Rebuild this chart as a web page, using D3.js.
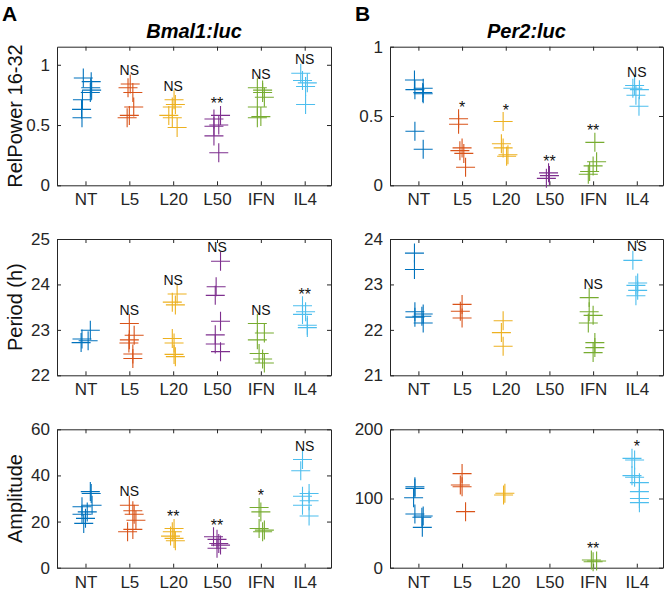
<!DOCTYPE html>
<html>
<head>
<meta charset="utf-8">
<script src="https://cdn.jsdelivr.net/npm/d3@7/dist/d3.min.js"></script>
<style>
  html, body { margin: 0; padding: 0; background: #fff; }
  svg { display: block; font-family: "Liberation Sans", Arial, Helvetica, sans-serif; }
</style>
</head>
<body>
<svg id="chart" width="666" height="598"></svg>
<script>
// ---------- data ----------
const categories = ["NT", "L5", "L20", "L50", "IFN", "IL4"];
const colors = ["#0072BD", "#D95319", "#EDB120", "#7E2F8E", "#77AC30", "#4DBEEE"];

// Bmal1:luc RelPower 16-32
const bmalPower = [
  [0.89, 0.86, 0.81, 0.79, 0.77, 0.71, 0.63, 0.56],
  [0.84, 0.81, 0.77, 0.65, 0.58, 0.56],
  [0.71, 0.67, 0.65, 0.58, 0.56, 0.48],
  [0.58, 0.55, 0.50, 0.49, 0.41, 0.27],
  [0.81, 0.79, 0.77, 0.73, 0.65, 0.57, 0.56],
  [0.93, 0.87, 0.85, 0.82, 0.67]
];
const bmalPowerJitter = [
  [-0.05, 0.13, 0.12, 0.14, 0.11, -0.07, -0.09, -0.08],
  [0.02, -0.03, 0.08, 0.10, 0.00, -0.05],
  [0.02, 0.05, -0.02, -0.10, -0.02, 0.09],
  [0.08, -0.07, 0.04, -0.07, -0.07, 0.04],
  [-0.08, 0.04, 0.04, 0.08, -0.08, 0.00, -0.08],
  [-0.09, -0.05, 0.06, 0.02, 0.02]
];
const bmalPowerSig = ["", "NS", "NS", "**", "NS", "NS"];

// Per2:luc RelPower 16-32
const perPower = [
  [0.76, 0.70, 0.69, 0.67, 0.66, 0.39, 0.26],
  [0.48, 0.44, 0.27, 0.25, 0.23, 0.13],
  [0.46, 0.30, 0.27, 0.22, 0.21],
  [0.09, 0.07, 0.05],
  [0.31, 0.17, 0.14, 0.10, 0.08],
  [0.72, 0.70, 0.69, 0.65, 0.57]
];
const perPowerJitter = [
  [-0.09, 0.11, -0.08, 0.10, 0.11, -0.08, 0.11],
  [-0.08, -0.08, 0.00, -0.05, 0.04, 0.08],
  [-0.06, -0.10, -0.06, 0.05, 0.02],
  [-0.02, 0.00, -0.07],
  [0.04, 0.08, 0.00, -0.08, -0.11],
  [-0.05, -0.09, 0.06, -0.02, 0.05]
];
const perPowerSig = ["", "*", "*", "**", "**", "NS"];

// Bmal1:luc Period (h)
const bmalPeriod = [
  [22.99, 22.80, 22.76, 22.72],
  [23.14, 22.88, 22.78, 22.71, 22.47, 22.37],
  [23.79, 23.61, 23.55, 22.81, 22.71, 22.46, 22.41],
  [24.51, 23.95, 23.76, 23.19, 22.89, 22.69, 22.52],
  [23.14, 22.93, 22.78, 22.48, 22.36, 22.27],
  [23.53, 23.40, 23.34, 23.10, 23.05]
];
const bmalPeriodJitter = [
  [0.11, -0.08, 0.06, -0.10],
  [0.00, 0.11, 0.00, -0.01, 0.08, 0.08],
  [0.09, -0.02, 0.05, -0.02, 0.02, 0.02, 0.05],
  [0.08, -0.02, -0.04, 0.08, -0.04, -0.04, 0.08],
  [-0.08, 0.08, -0.08, -0.04, 0.04, 0.08],
  [-0.05, 0.02, -0.05, 0.06, 0.06]
];
const bmalPeriodSig = ["", "NS", "NS", "NS", "NS", "**"];

// Per2:luc Period (h)
const perPeriod = [
  [23.69, 23.33, 22.40, 22.35, 22.30, 22.28, 22.15],
  [22.56, 22.41, 22.26],
  [22.20, 21.94, 21.64],
  [],
  [22.71, 22.40, 22.32, 22.15, 21.72, 21.61, 21.50],
  [23.53, 23.03, 22.98, 22.87, 22.75]
];
const perPeriodJitter = [
  [-0.09, -0.09, -0.08, 0.11, 0.08, -0.08, 0.11],
  [0.00, -0.04, 0.00],
  [-0.06, -0.10, -0.06],
  [],
  [-0.09, -0.09, 0.00, -0.11, 0.04, 0.04, 0.00],
  [-0.09, 0.02, -0.02, 0.02, -0.02]
];
const perPeriodSig = ["", "", "", "", "NS", "NS"];

// Bmal1:luc Amplitude
const bmalAmp = [
  [33.0, 32.2, 27.1, 26.4, 24.2, 23.2, 21.4, 19.2],
  [27.1, 24.7, 23.2, 20.6, 16.6, 15.6],
  [17.0, 15.6, 13.7, 12.7, 11.7],
  [13.4, 12.3, 10.5, 9.8, 8.4],
  [26.1, 24.2, 17.0, 16.3, 15.6],
  [46.9, 42.0, 32.2, 31.0, 29.0, 27.1, 22.4]
];
const bmalAmpJitter = [
  [0.11, 0.13, 0.15, -0.08, 0.04, -0.08, 0.00, -0.04],
  [0.00, 0.08, 0.11, 0.15, 0.08, -0.04],
  [0.02, -0.02, -0.06, 0.02, 0.05],
  [-0.08, 0.00, 0.04, 0.08, 0.00],
  [-0.04, 0.00, -0.04, 0.08, 0.04],
  [-0.05, -0.09, 0.10, -0.05, 0.10, -0.05, 0.10]
];
const bmalAmpSig = ["", "NS", "**", "**", "*", "NS"];

// Per2:luc Amplitude
const perAmp = [
  [117, 114.7, 101, 77.6, 74.7, 72.8, 58.3],
  [136, 119.5, 117, 81],
  [107.5, 105],
  [],
  [11.1, 9.6, 8.7],
  [158, 155.7, 133, 130.6, 122.9, 110, 100, 94]
];
const perAmpJitter = [
  [-0.08, -0.08, -0.11, -0.08, 0.11, 0.08, 0.09],
  [0.00, -0.04, 0.00, 0.08],
  [-0.02, -0.05],
  [],
  [-0.04, 0.08, 0.00],
  [-0.11, -0.05, -0.11, -0.05, 0.06, 0.06, 0.06, 0.06]
];
const perAmpSig = ["", "", "", "", "**", "*"];

// axis settings
const powerTicks = [0, 0.5, 1];
const periodTicksA = [22, 23, 24, 25];
const periodTicksB = [21, 22, 23, 24];
const ampTicksA = [0, 20, 40, 60];
const ampTicksB = [0, 100, 200];

// ---------- layout ----------
const svg = d3.select("#chart");
const axisColor = "#262626";
const cols = [{x0: 57, x1: 331}, {x0: 390, x1: 663}];
const rows = [{y0: 46.7, y1: 185.3}, {y0: 239, y1: 375.3}, {y0: 429.3, y1: 567.7}];

const panels = [
  {col: 0, row: 0, values: bmalPower, jitter: bmalPowerJitter, sig: bmalPowerSig, domain: [0, 1.15], ticks: powerTicks, ylabel: "RelPower 16-32", title: "Bmal1:luc"},
  {col: 1, row: 0, values: perPower, jitter: perPowerJitter, sig: perPowerSig, domain: [0, 1], ticks: powerTicks, title: "Per2:luc"},
  {col: 0, row: 1, values: bmalPeriod, jitter: bmalPeriodJitter, sig: bmalPeriodSig, domain: [22, 25], ticks: periodTicksA, ylabel: "Period (h)"},
  {col: 1, row: 1, values: perPeriod, jitter: perPeriodJitter, sig: perPeriodSig, domain: [21, 24], ticks: periodTicksB},
  {col: 0, row: 2, values: bmalAmp, jitter: bmalAmpJitter, sig: bmalAmpSig, domain: [0, 60], ticks: ampTicksA, ylabel: "Amplitude"},
  {col: 1, row: 2, values: perAmp, jitter: perAmpJitter, sig: perAmpSig, domain: [0, 200], ticks: ampTicksB}
];

function styleAxis(g) {
  g.selectAll("path.domain").attr("stroke", axisColor).attr("stroke-width", 1);
  g.selectAll(".tick line").attr("stroke", axisColor).attr("stroke-width", 1);
  g.selectAll(".tick text").attr("fill", axisColor).attr("font-size", 17)
    .attr("font-family", "Liberation Sans, Arial, sans-serif");
}

panels.forEach(p => {
  const c = cols[p.col], r = rows[p.row];
  const x = d3.scaleLinear().domain([0.35, 6.6]).range([c.x0, c.x1]);
  const y = d3.scaleLinear().domain(p.domain).range([r.y1, r.y0]);
  const idx = d3.range(1, categories.length + 1);

  const gB = svg.append("g").attr("transform", `translate(0,${r.y1})`)
    .call(d3.axisBottom(x).tickValues(idx).tickFormat(i => categories[i - 1])
      .tickSizeInner(-4).tickSizeOuter(0).tickPadding(8));
  styleAxis(gB);
  const gT = svg.append("g").attr("transform", `translate(0,${r.y0})`)
    .call(d3.axisTop(x).tickValues(idx).tickFormat("").tickSizeInner(-4).tickSizeOuter(0));
  styleAxis(gT);
  const gL = svg.append("g").attr("transform", `translate(${c.x0},0)`)
    .call(d3.axisLeft(y).tickValues(p.ticks).tickFormat(d3.format("~g"))
      .tickSizeInner(-4).tickSizeOuter(0).tickPadding(7));
  styleAxis(gL);
  const gR = svg.append("g").attr("transform", `translate(${c.x1},0)`)
    .call(d3.axisRight(y).tickValues(p.ticks).tickFormat("").tickSizeInner(-4).tickSizeOuter(0));
  styleAxis(gR);

  // markers
  p.values.forEach((vals, ci) => {
    const pts = vals.map((v, k) => ({v, j: p.jitter[ci][k]}));
    svg.append("g").selectAll("path").data(pts).join("path")
      .attr("transform", d => `translate(${x(ci + 1 + d.j)},${y(d.v)})`)
      .attr("d", "M-9.5,0H9.5M0,-9.5V9.5")
      .attr("fill", "none")
      .attr("stroke", colors[ci])
      .attr("stroke-width", 1.1);
    const s = p.sig[ci];
    if (s && vals.length) {
      const top = y(d3.max(vals));
      const star = s.startsWith("*");
      svg.append("text")
        .attr("x", x(ci + 1))
        .attr("y", top - (star ? 6 : 9))
        .attr("text-anchor", "middle")
        .attr("font-size", star ? 16 : 14)
        .attr("fill", "#111")
        .text(s);
    }
  });

  if (p.ylabel) {
    svg.append("text")
      .attr("transform", `translate(22,${(r.y0 + r.y1) / 2}) rotate(-90)`)
      .attr("text-anchor", "middle")
      .attr("font-size", 20)
      .attr("fill", "#111")
      .text(p.ylabel);
  }
  if (p.title) {
    svg.append("text")
      .attr("x", (c.x0 + c.x1) / 2)
      .attr("y", 38)
      .attr("text-anchor", "middle")
      .attr("font-size", 20)
      .attr("font-weight", "bold")
      .attr("font-style", "italic")
      .attr("fill", "#000")
      .text(p.title);
  }
});

// panel letters
svg.append("text").attr("x", 2).attr("y", 21).attr("font-size", 21)
  .attr("font-weight", "bold").attr("fill", "#000").text("A");
svg.append("text").attr("x", 355).attr("y", 21).attr("font-size", 21)
  .attr("font-weight", "bold").attr("fill", "#000").text("B");
</script>
</body>
</html>
